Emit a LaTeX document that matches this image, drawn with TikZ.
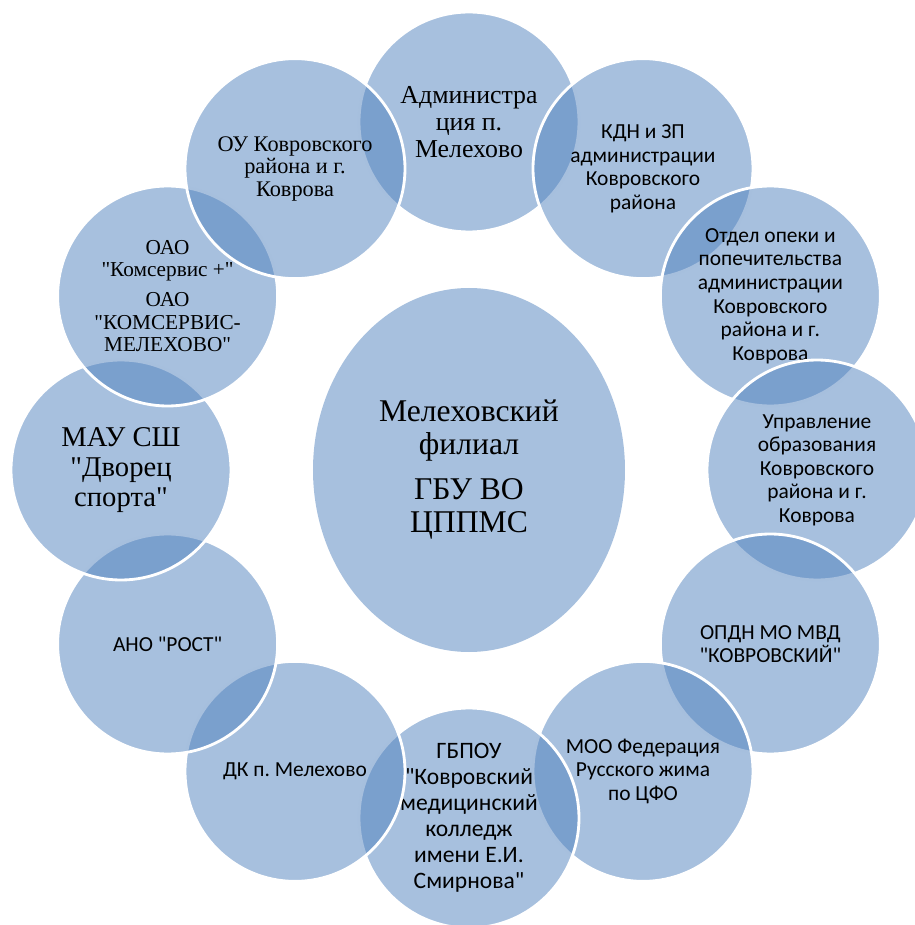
\documentclass[tikz,border=0pt]{standalone}
\usepackage{fontspec}
\setmainfont{Liberation Serif}[Ligatures=TeXOff]
\newfontfamily\calibri{Carlito}
\usetikzlibrary{shapes.geometric}
\definecolor{accent}{RGB}{79,129,189}
\frenchspacing

\begin{document}
\begin{tikzpicture}[
  ring/.style={circle,minimum size=4.4cm,inner sep=0pt,align=center,fill=accent,fill opacity=0.5,text opacity=1,draw=white,line width=1.6pt},
  sans/.style={font=\calibri\fontsize{12.2}{13.4}\selectfont}
]
  \useasboundingbox (-9.38,-9.10) rectangle (8.92,9.40);
  \node[ellipse,minimum width=6.24cm,minimum height=7.28cm,inner sep=0pt,fill=accent,fill opacity=0.5,text opacity=1,align=center,font=\fontsize{18}{18.8}\selectfont] (0) at (0,0) {Мелеховский\\филиал\\[6.8pt]ГБУ ВО\\ЦППМС};
  \node[ring,font=\fontsize{14.7}{15.4}\selectfont] (1) at (90:6.96) {Администра\\ция п.\\Мелехово};
  \node[ring,sans] (2) at (60:6.96) {КДН и ЗП\\администрации\\Ковровского\\района};
  \node[ring,sans] (3) at (30:6.96) {Отдел опеки и\\попечительства\\администрации\\Ковровского\\района и г.\\Коврова};
  \node[ring,sans] (4) at (0:6.96) {Управление\\образования\\Ковровского\\района и г.\\Коврова};
  \node[ring,sans] (5) at (-30:6.96) {ОПДН МО МВД\\"КОВРОВСКИЙ"};
  \node[ring,sans] (6) at (-60:6.96) {МОО Федерация\\Русского жима\\по ЦФО};
  \node[ring,font=\calibri\fontsize{13.4}{14.8}\selectfont] (7) at (-90:6.96) {ГБПОУ\\"Ковровский\\медицинский\\колледж\\имени Е.И.\\Смирнова"};
  \node[ring,sans] (8) at (-120:6.96) {ДК п. Мелехово};
  \node[ring,sans] (9) at (-150:6.96) {АНО "РОСТ"};
  \node[ring,font=\fontsize{16.3}{17}\selectfont] (10) at (180:6.96) {МАУ СШ\\"Дворец\\спорта"};
  \node[ring,font=\fontsize{12.1}{12.6}\selectfont] (11) at (150:6.96) {ОАО\\"Комсервис +"\\[4.5pt]ОАО\\"КОМСЕРВИС-\\МЕЛЕХОВО"};
  \node[ring,font=\fontsize{12.7}{12.8}\selectfont] (12) at (120:6.96) {ОУ Ковровского\\района и г.\\Коврова};
\end{tikzpicture}
\end{document}
